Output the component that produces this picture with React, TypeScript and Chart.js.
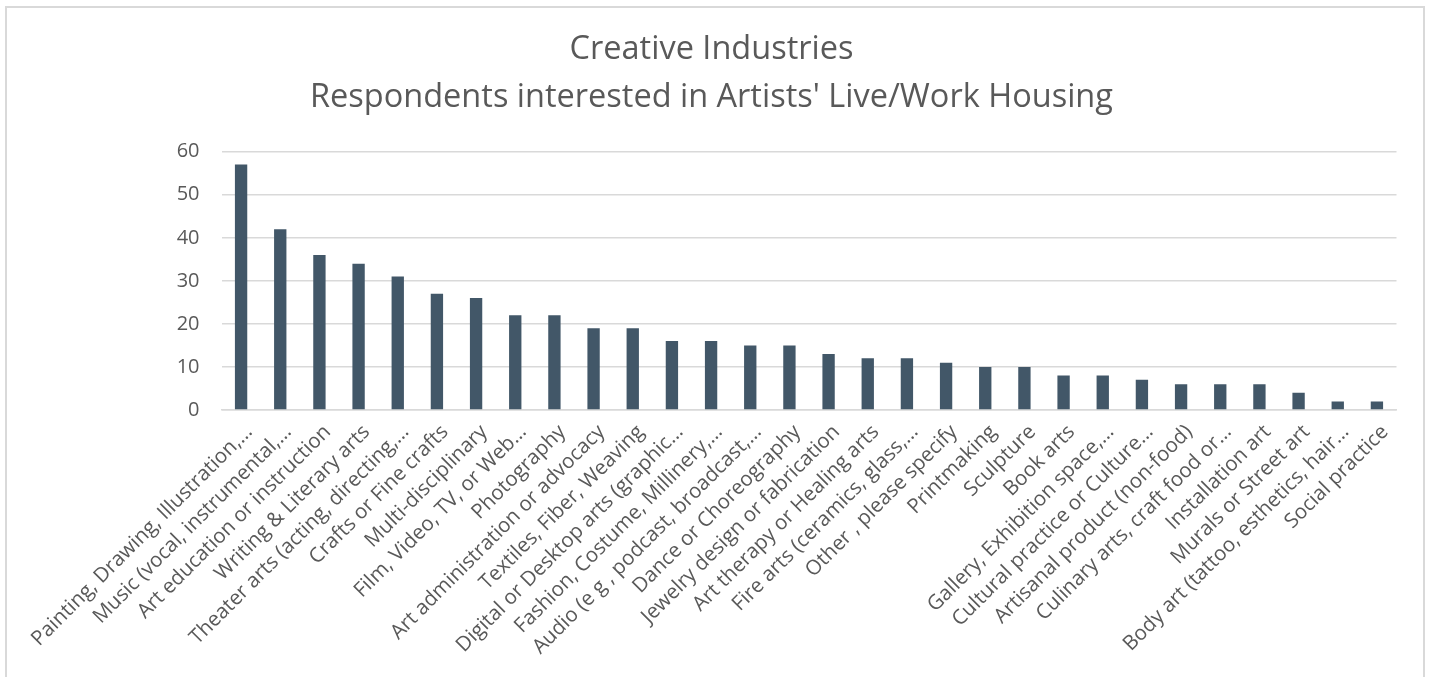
import React, { useEffect, useRef } from "react";
import { Chart, registerables } from "chart.js";

Chart.register(...registerables);

const titleLines = ["Creative Industries", "Respondents interested in Artists' Live/Work Housing"];

const categories = [
  "Painting, Drawing, Illustration,…",
  "Music (vocal, instrumental,…",
  "Art education or instruction",
  "Writing & Literary arts",
  "Theater arts (acting, directing,…",
  "Crafts or Fine crafts",
  "Multi-disciplinary",
  "Film, Video, TV, or Web…",
  "Photography",
  "Art administration or advocacy",
  "Textiles, Fiber, Weaving",
  "Digital or Desktop arts (graphic…",
  "Fashion, Costume, Millinery,…",
  "Audio (e g , podcast, broadcast,…",
  "Dance or Choreography",
  "Jewelry design or fabrication",
  "Art therapy or Healing arts",
  "Fire arts (ceramics, glass,…",
  "Other , please specify",
  "Printmaking",
  "Sculpture",
  "Book arts",
  "Gallery, Exhibition space,…",
  "Cultural practice or Culture…",
  "Artisanal product (non-food)",
  "Culinary arts, craft food or…",
  "Installation art",
  "Murals or Street art",
  "Body art (tattoo, esthetics, hair…",
  "Social practice",
];

const respondents = [
  57, 42, 36, 34, 31, 27, 26, 22, 22, 19, 19, 16, 16, 15, 15, 13, 12, 12, 11, 10, 10, 8, 8, 7, 6, 6, 6, 4, 2, 2,
];

const yMax = 60;
const yStep = 10;

const FONT = "'Open Sans', 'DejaVu Sans', sans-serif";
const TEXT = "#595959";
const GRID = "#D9D9D9";
const BAR = "#425768";

const borderPlugin = {
  id: "outerBorder",
  afterDraw(chart: any) {
    const ctx = chart.ctx;
    ctx.save();
    ctx.strokeStyle = GRID;
    ctx.lineWidth = 2;
    ctx.strokeRect(6, 7, 1418, 720);
    ctx.restore();
  },
};

export default function App() {
  const ref = useRef<HTMLCanvasElement | null>(null);

  useEffect(() => {
    document.body.style.margin = "0";
    const canvas = ref.current;
    if (!canvas) return;
    const chart = new Chart(canvas, {
      type: "bar",
      data: {
        labels: categories,
        datasets: [
          {
            label: "Respondents",
            data: respondents,
            backgroundColor: BAR,
            borderWidth: 0,
            barPercentage: 0.315,
            categoryPercentage: 1,
          },
        ],
      },
      options: {
        responsive: false,
        animation: false,
        devicePixelRatio: 1,
        layout: { padding: { left: 26.5, right: 34.5, top: 0, bottom: 0 } },
        plugins: {
          legend: { display: false },
          tooltip: { enabled: false },
          title: {
            display: true,
            text: titleLines,
            color: TEXT,
            font: { family: FONT, size: 32.5, weight: "normal", lineHeight: 1.477 },
            padding: { top: 26, bottom: 29.7 },
          },
        },
        scales: {
          x: {
            grid: { display: false, drawTicks: false },
            border: { display: true, color: GRID, width: 1.5 },
            ticks: {
              color: TEXT,
              font: { family: FONT, size: 20.5 },
              maxRotation: 45,
              minRotation: 45,
              autoSkip: false,
              padding: 10,
              labelOffset: 8,
            },
            afterFit(scale: any) {
              scale.height = 267;
            },
          },
          y: {
            min: 0,
            max: yMax,
            grid: { color: GRID, lineWidth: 1.5, drawTicks: false },
            border: { display: false },
            ticks: {
              stepSize: yStep,
              color: TEXT,
              font: { family: FONT, size: 20 },
              padding: 22,
            },
            afterFit(scale: any) {
              scale.width = 195;
            },
          },
        },
      },
      plugins: [borderPlugin],
    } as any);
    return () => chart.destroy();
  }, []);

  return (
    <div style={{ width: 1431, height: 677 }}>
      <canvas ref={ref} width={1431} height={677} style={{ display: "block" }} />
    </div>
  );
}
